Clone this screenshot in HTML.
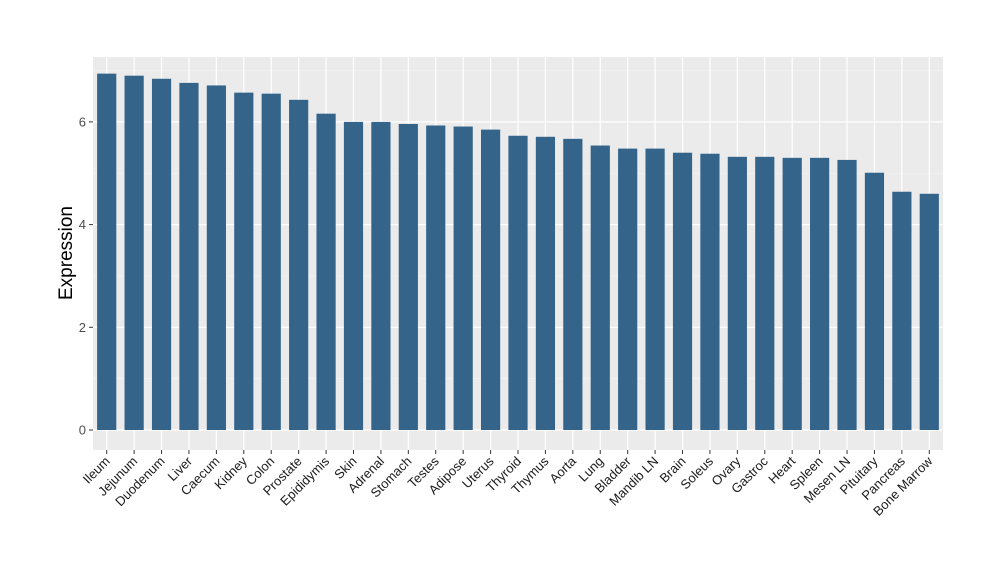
<!DOCTYPE html>
<html><head><meta charset="utf-8"><style>
body{margin:0;background:#fff}
svg text{font-family:"Liberation Sans",Arial,sans-serif}
</style></head><body>
<svg id="chart" width="1000" height="580" xmlns="http://www.w3.org/2000/svg">
<rect width="1000" height="580" fill="#fff"/>
<rect x="93" y="57" width="850" height="393" fill="#ebebeb"/>
<g id="grid"></g><g id="bars"></g><g id="axes"></g>
<text transform="translate(72,253) rotate(-90)" text-anchor="middle" font-size="19" fill="#000">Expression</text>
</svg>
<script>
const categories=["Ileum","Jejunum","Duodenum","Liver","Caecum","Kidney","Colon","Prostate","Epididymis","Skin","Adrenal","Stomach","Testes","Adipose","Uterus","Thyroid","Thymus","Aorta","Lung","Bladder","Mandib LN","Brain","Soleus","Ovary","Gastroc","Heart","Spleen","Mesen LN","Pituitary","Pancreas","Bone Marrow"];
const values=[6.94,6.90,6.84,6.76,6.71,6.57,6.55,6.43,6.16,6.00,6.00,5.96,5.93,5.91,5.85,5.73,5.71,5.67,5.54,5.48,5.48,5.40,5.38,5.32,5.32,5.30,5.30,5.26,5.01,4.64,4.60];
const yTicks=[0,2,4,6];
const NS="http://www.w3.org/2000/svg";
const y=v=>430-v*51.35;
const step=850/categories.length;
const x=i=>93+step*(i+0.5);
const bw=step*0.7;
function mk(t,a,p){const e=document.createElementNS(NS,t);for(const k in a)e.setAttribute(k,a[k]);p.appendChild(e);return e;}
const grid=document.getElementById('grid'),bars=document.getElementById('bars'),axes=document.getElementById('axes');
for(let v=-1;v<=7;v+=2){const yy=y(v);if(yy<57||yy>450)continue;const l=mk('line',{x1:93,x2:943,y1:yy,y2:yy,stroke:'#f5f5f5','stroke-width':0.6},grid);}
yTicks.forEach(v=>{const yy=y(v);
const l=mk('line',{x1:93,x2:943,y1:yy,y2:yy,stroke:'#fff','stroke-width':1.2},grid);

const tk=mk('line',{x1:89,x2:93,y1:yy,y2:yy,stroke:'#333'},axes);

const t=mk('text',{x:86,y:yy+4.5,'text-anchor':'end','font-size':13,fill:'#4d4d4d'},axes);t.textContent=v;
});
categories.forEach((c,i)=>{const cx=x(i);
const g=mk('line',{x1:cx,x2:cx,y1:57,y2:450,stroke:'#fff','stroke-width':1.2},grid);

const r=mk('rect',{x:cx-bw/2,y:y(values[i]),width:bw,height:y(0)-y(values[i]),fill:'#35648b'},bars);

const tk=mk('line',{x1:cx,x2:cx,y1:450,y2:454,stroke:'#333'},axes);

const t=mk('text',{transform:`translate(${cx+4},${462}) rotate(-45)`,'text-anchor':'end','font-size':13,fill:'#1a1a1a'},axes);t.textContent=c;
});
</script>
</body></html>
